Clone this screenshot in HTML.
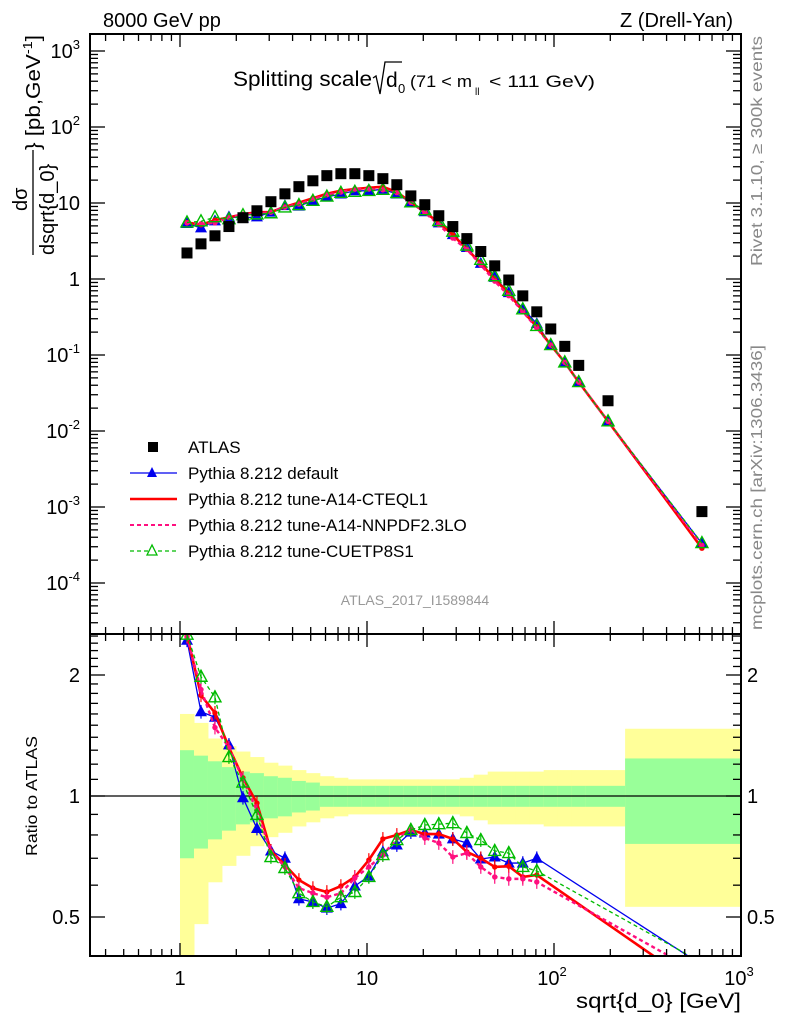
<!DOCTYPE html>
<html><head><meta charset="utf-8"><style>
html,body{margin:0;padding:0;background:#fff;}
svg{display:block;font-family:"Liberation Sans",Arial,sans-serif;}
</style></head><body>
<svg id="chart" width="786" height="1024" viewBox="0 0 786 1024" xmlns="http://www.w3.org/2000/svg">
<defs>
<clipPath id="clipMain"><rect x="90" y="34" width="651" height="600"/></clipPath>
<clipPath id="clipRatio"><rect x="90" y="634" width="651" height="322"/></clipPath>
</defs>
<g id="bands" clip-path="url(#clipRatio)"></g>
<g id="ratioLayer" clip-path="url(#clipRatio)"></g>
<g id="mainLayer" clip-path="url(#clipMain)"></g>
<g id="axes"></g>
<text x="103" y="27" font-size="20">8000 GeV pp</text>
<text x="733" y="27" font-size="20" text-anchor="end">Z (Drell-Yan)</text>
<g>
<text x="233" y="86" font-size="21" textLength="139" lengthAdjust="spacingAndGlyphs">Splitting scale</text>
<path d="M373 78 L376 76 L380 94 L385 62 L402 62" fill="none" stroke="#000" stroke-width="1.3"/>
<text x="386" y="87" font-size="21">d</text><text x="398" y="93" font-size="13">0</text>
<text x="410" y="87" font-size="17" textLength="62" lengthAdjust="spacingAndGlyphs">(71 &lt; m</text><text x="475" y="95" font-size="10">ll</text><text x="489" y="87" font-size="17" textLength="106" lengthAdjust="spacingAndGlyphs">&lt; 111 GeV)</text>
</g>
<g>
<text transform="translate(27,211) rotate(-90)" font-size="20">dσ</text>
<line x1="33" y1="255" x2="33" y2="150" stroke="#000" stroke-width="1.3"/>
<text transform="translate(54,255) rotate(-90)" font-size="20">dsqrt{d_0}</text>
<text transform="translate(40,150) rotate(-90)" font-size="20" textLength="115" lengthAdjust="spacingAndGlyphs">} [pb,GeV<tspan font-size="13" dy="-8">-1</tspan><tspan dy="8">]</tspan></text>
</g>
<text transform="translate(37,856) rotate(-90)" font-size="16" textLength="120" lengthAdjust="spacingAndGlyphs">Ratio to ATLAS</text>
<text x="741" y="1008" font-size="21" text-anchor="end" textLength="165" lengthAdjust="spacingAndGlyphs">sqrt{d_0} [GeV]</text>
<text transform="translate(762,266) rotate(-90)" font-size="16" fill="#888" textLength="230" lengthAdjust="spacingAndGlyphs">Rivet 3.1.10, ≥ 300k events</text>
<text transform="translate(762,630) rotate(-90)" font-size="16" fill="#888" textLength="285" lengthAdjust="spacingAndGlyphs">mcplots.cern.ch [arXiv:1306.3436]</text>
<text x="415" y="605" font-size="14" fill="#999" text-anchor="middle">ATLAS_2017_I1589844</text>
<g id="legend"></g>
</svg>
<script>
// ---- data ----
const xCenters = [1.090,1.295,1.538,1.827,2.171,2.579,3.064,3.640,4.324,5.137,6.10,7.25,8.61,10.23,12.16,14.44,17.16,20.38,24.21,28.77,34.2,40.6,48.2,57.3,68.1,80.9,96.1,114.2,135.6,194.5,618];
const atlas = [2.2,2.9,3.7,4.9,6.4,7.9,10.4,13.2,16.4,19.6,22.9,24.3,24.3,22.9,20.9,17.4,12.4,9.5,6.8,4.9,3.4,2.3,1.49,0.97,0.60,0.37,0.22,0.13,0.073,0.025,0.00087];
const ratioDefault = [2.44,1.62,1.57,1.34,0.99,0.83,0.73,0.70,0.555,0.545,0.526,0.54,0.597,0.632,0.726,0.755,0.813,0.809,0.804,0.782,0.764,0.697,0.705,0.681,0.681,0.70];
const ratioA14CTEQ = [2.52,1.78,1.61,1.32,1.11,0.96,0.73,0.674,0.618,0.59,0.577,0.597,0.629,0.693,0.782,0.80,0.823,0.804,0.804,0.782,0.726,0.70,0.666,0.669,0.629,0.636];
const ratioA14NNPDF = [2.49,1.84,1.48,1.32,1.10,0.92,0.726,0.666,0.59,0.573,0.56,0.573,0.625,0.666,0.713,0.786,0.823,0.786,0.764,0.705,0.721,0.666,0.629,0.622,0.622,0.611];
const ratioCUETP8S1 = [2.52,1.98,1.76,1.25,1.08,0.897,0.705,0.662,0.573,0.545,0.53,0.56,0.577,0.629,0.713,0.777,0.823,0.847,0.851,0.856,0.809,0.777,0.73,0.721,0.666,0.651];
const ratioLast = [0.38,0.33,0.36,0.385];
const mcTail = [0.135,0.080,0.044,0.0134];
const binEdges = [1.000,1.188,1.411,1.676,1.991,2.365,2.810,3.338,3.965,4.711,5.596,6.648,7.898,9.383,11.15,13.24,15.73,18.69,22.20,26.37,31.33,37.22,44.21,52.52,62.40,74.13,88.06,104.6,124.3,147.6,240,1000];
const statErr = [0.30,0.26,0.22,0.18,0.15,0.14,0.12,0.11,0.09,0.08,0.06,0.06,0.06,0.06,0.06,0.06,0.06,0.06,0.06,0.06,0.06,0.06,0.06,0.06,0.06,0.06,0.06,0.06,0.06,0.06,0.24];
const totErr = [0.60,0.52,0.39,0.33,0.29,0.25,0.21,0.19,0.16,0.14,0.12,0.11,0.10,0.10,0.10,0.10,0.10,0.10,0.10,0.10,0.11,0.13,0.15,0.15,0.15,0.15,0.16,0.16,0.16,0.16,0.47];
const mainYTicks = [3,2,1,0,-1,-2,-3,-4];
const mainYLabels = ["3","2","","","-1","-2","-3","-4"];
const ratioMajor = [0.5,1,2];
const xMajor = [1,10,100,1000];

// ---- scales ----
const X0=90, X1=741, MT=34, MB=634, RB=956;
function sx(v){return 180+187*Math.log10(v);}
function sy(v){return 279-76*Math.log10(v);}
function sr(v){return 796-121*Math.log2(v);}
const NS="http://www.w3.org/2000/svg";
function mk(tag,attrs,parent){const e=document.createElementNS(NS,tag);for(const k in attrs)e.setAttribute(k,attrs[k]);parent.appendChild(e);return e;}

// ---- bands ----
const bands=document.getElementById('bands');
for(let i=0;i<totErr.length;i++){
  const xa=sx(binEdges[i]), xb=sx(binEdges[i+1]);
  const y1=mk('rect',{x:xa,y:sr(1+totErr[i]),width:xb-xa+0.5,height:sr(Math.max(1-totErr[i],0.05))-sr(1+totErr[i]),fill:'#ffff99'},bands);
  
  
  const g=mk('rect',{x:xa,y:sr(1+statErr[i]),width:xb-xa+0.5,height:sr(1-statErr[i])-sr(1+statErr[i]),fill:'#99ff99'},bands);
  
  
}

const series=[
 {name:'pythia-default',r:ratioDefault,last:ratioLast[0],color:'#0000ee',w:1.3,dash:'',marker:'tri'},
 {name:'pythia-a14-cteql1',r:ratioA14CTEQ,last:ratioLast[1],color:'#ff0000',w:2.6,dash:'',marker:'dot'},
 {name:'pythia-a14-nnpdf',r:ratioA14NNPDF,last:ratioLast[2],color:'#ff0f7f',w:2.4,dash:'4,3',marker:'dot'},
 {name:'pythia-cuetp8s1',r:ratioCUETP8S1,last:ratioLast[3],color:'#00bb00',w:1.3,dash:'4,3',marker:'otri'}
];
function marker(parent,type,x,y,color,nm){
  let e;
  if(type==='tri') e=mk('polygon',{points:`${x},${y-6.5} ${x-6},${y+4.5} ${x+6},${y+4.5}`,fill:color},parent);
  else if(type==='otri') e=mk('polygon',{points:`${x},${y-6.5} ${x-6},${y+4.5} ${x+6},${y+4.5}`,fill:'none',stroke:color,'stroke-width':1.4},parent);
  else e=mk('circle',{cx:x,cy:y,r:2.7,fill:color},parent);
  
  
}
const mainL=document.getElementById('mainLayer');
const ratL=document.getElementById('ratioLayer');
const one=mk('line',{x1:X0,x2:X1,y1:sr(1),y2:sr(1),stroke:'#000','stroke-width':1.3},ratL);



series.forEach(s=>{
  const n=xCenters.length;
  const mainVals=[];
  for(let i=0;i<n;i++){
    if(i<s.r.length) mainVals.push(atlas[i]*s.r[i]);
    else if(i<n-1) mainVals.push(mcTail[i-s.r.length]);
    else mainVals.push(atlas[i]*s.last);
  }
  const pm=xCenters.map((x,i)=>sx(x)+','+sy(mainVals[i])).join(' ');
  const pl=mk('polyline',{points:pm,fill:'none',stroke:s.color,'stroke-width':s.w,'stroke-dasharray':s.dash},mainL);
  
  
  const rx=[],ry=[];
  for(let i=0;i<s.r.length;i++){rx.push(xCenters[i]);ry.push(s.r[i]);}
  rx.push(xCenters[n-1]);ry.push(s.last);
  const pr=rx.map((x,i)=>sx(x)+','+sr(ry[i])).join(' ');
  const rl=mk('polyline',{points:pr,fill:'none',stroke:s.color,'stroke-width':s.w,'stroke-dasharray':s.dash},ratL);
  
  
  for(let i=0;i<n;i++) marker(mainL,s.marker,sx(xCenters[i]),sy(mainVals[i]),s.color,s.name+'-point');
  for(let i=0;i<s.r.length;i++){
    const eb=mk('line',{x1:sx(xCenters[i]),x2:sx(xCenters[i]),y1:sr(s.r[i]*1.04),y2:sr(s.r[i]/1.04),stroke:s.color,'stroke-width':1.2},ratL);
    
    
    marker(ratL,s.marker,sx(xCenters[i]),sr(s.r[i]),s.color,s.name+'-ratio-point');
  }
});
atlas.forEach((v,i)=>{
  const e=mk('rect',{x:sx(xCenters[i])-5.5,y:sy(v)-5.5,width:11,height:11,fill:'#000'},mainL);
  
  
});

// ---- axes ----
const ax=document.getElementById('axes');
function ln(x1,y1,x2,y2,w,nm){const e=mk('line',{x1,y1,x2,y2,stroke:'#000','stroke-width':w||1.3},ax);return e;}
const fr1=mk('rect',{x:X0,y:MT,width:X1-X0,height:MB-MT,fill:'none',stroke:'#000','stroke-width':2},ax);


const fr2=mk('rect',{x:X0,y:MB,width:X1-X0,height:RB-MB,fill:'none',stroke:'#000','stroke-width':2},ax);


for(let d=-1;d<=2;d++){
  for(let m=1;m<=9;m++){
    const v=m*Math.pow(10,d), x=sx(v);
    if(x<X0||x>X1) continue;
    const L=m===1?13:7;
    [[MT,1],[MB,-1],[MB,1],[RB,-1]].forEach(([y,dir])=>ln(x,y,x,y+dir*L,1.3,'x-tick'));
  }
}
const xl=['1','10','10<tspan font-size="13" dy="-9">2</tspan>','10<tspan font-size="13" dy="-9">3</tspan>'];
xMajor.forEach((v,i)=>{
  const t=mk('text',{x:sx(v)+(i>=2?-2:0),y:985,'font-size':20,'text-anchor':'middle'},ax);
  t.innerHTML=xl[i];
  
  
});
for(let d=-5;d<=3;d++){
  for(let m=1;m<=9;m++){
    const y=sy(m*Math.pow(10,d));
    if(y<MT||y>MB) continue;
    const L=m===1?15:8;
    ln(X0,y,X0+L,y,1.3,'y-tick');ln(X1,y,X1-L,y,1.3,'y-tick');
  }
}
mainYTicks.forEach((p,i)=>{
  const t=mk('text',{x:80,y:sy(Math.pow(10,p))+7,'font-size':20,'text-anchor':'end'},ax);
  if(p===1) t.textContent='10'; else if(p===0) t.textContent='1';
  else t.innerHTML='10<tspan font-size="13" dy="-9">'+mainYLabels[i]+'</tspan>';
  
  
});
for(let k=4;k<=25;k++){
  const v=k/10, y=sr(v);
  if(y<MB||y>RB) continue;
  const L=(k===5||k===10||k===20)?15:8;
  ln(X0,y,X0+L,y,1.3,'ratio-y-tick');ln(X1,y,X1-L,y,1.3,'ratio-y-tick');
}
ratioMajor.forEach(v=>{
  [[80,'end'],[747,'start']].forEach(([x,a])=>{
    const t=mk('text',{x:x,y:sr(v)+7,'font-size':20,'text-anchor':a},ax);
    t.textContent=String(v);
    
    
  });
});

// ---- legend ----
const lg=document.getElementById('legend');
const legItems=[
 {t:'ATLAS',c:'#000',m:'sq',w:0,d:''},
 {t:'Pythia 8.212 default',c:'#0000ee',m:'tri',w:1.3,d:''},
 {t:'Pythia 8.212 tune-A14-CTEQL1',c:'#ff0000',m:'',w:2.6,d:''},
 {t:'Pythia 8.212 tune-A14-NNPDF2.3LO',c:'#ff0f7f',m:'',w:2,d:'4,3'},
 {t:'Pythia 8.212 tune-CUETP8S1',c:'#00bb00',m:'otri',w:1.3,d:'4,3'}
];
legItems.forEach((it,i)=>{
  const y=447+26*i;
  const g=mk('g',{},lg);
  
  
  if(it.w) mk('line',{x1:130,x2:177,y1:y,y2:y,stroke:it.c,'stroke-width':it.w,'stroke-dasharray':it.d},g);
  if(it.m==='sq') mk('rect',{x:148,y:y-5,width:10,height:10,fill:'#000'},g);
  if(it.m==='tri') mk('polygon',{points:`152,${y-6} 147,${y+4} 157,${y+4}`,fill:it.c},g);
  if(it.m==='otri') mk('polygon',{points:`152,${y-6} 147,${y+4} 157,${y+4}`,fill:'#fff',stroke:it.c,'stroke-width':1.3},g);
  const t=mk('text',{x:188,y:y+6,'font-size':17},g);
  t.textContent=it.t;
});
</script>
</body></html>
